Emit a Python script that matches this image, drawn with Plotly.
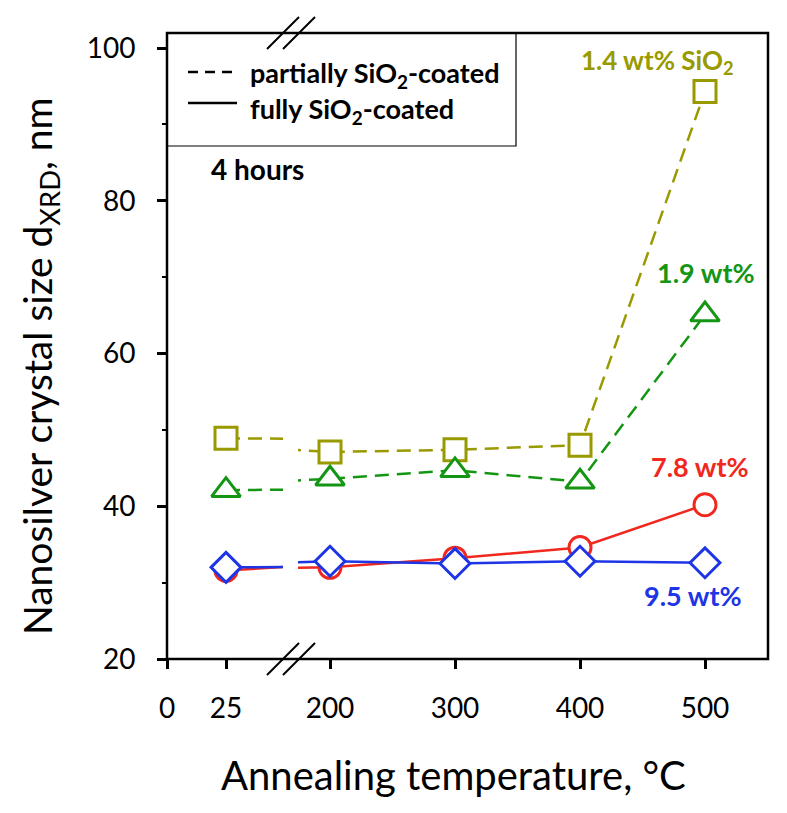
import plotly.graph_objects as go

# ---- data ----
temps = [25, 200, 300, 400, 500]
size_14 = [48.9, 47.1, 47.4, 48.0, 94.3]   # 1.4 wt% SiO2 (partially coated)
size_19 = [42.1, 43.6, 44.7, 43.2, 65.1]   # 1.9 wt% (partially coated)
size_78 = [31.6, 32.0, 33.2, 34.6, 40.2]   # 7.8 wt% (fully coated)
size_95 = [32.0, 32.8, 32.5, 32.8, 32.6]   # 9.5 wt% (fully coated)

left_ticks = [0, 25]
right_ticks = [200, 300, 400, 500]
y_ticks = [20, 40, 60, 80, 100]

# ---- layout geometry (pixels, in reference-image space) ----
OFF = 8                      # page body margin
W, H = 787 - 2 * OFF, 813 - 2 * OFF
L, R, T, B = 167, 768, 33, 659
def px(x):
    return (x - L) / (R - L)
def py(y):
    return (B - y) / (B - T)

FONT = "Lato"
OLIVE, GREEN, RED, BLUE = "#999900", "#149614", "#F0281E", "#1E35E6"

series = [
    (size_14, OLIVE, True, "square", 22),
    (size_19, GREEN, True, "triangle-up", 25),
    (size_78, RED, False, "circle", 22),
    (size_95, BLUE, False, "diamond", 23),
]

fig = go.Figure()
for xa in ["x", "x2"]:
    for vals, col, dashed, sym, sz in series:
        fig.add_trace(go.Scatter(
            x=temps, y=vals, xaxis=xa, yaxis="y", mode="lines+markers",
            line=dict(color=col, width=2.5, dash="14px,8px" if dashed else "solid"),
            marker=dict(symbol=sym, size=sz, color="white", line=dict(color=col, width=3)),
            showlegend=False, hoverinfo="x+y"))

tick_common = dict(ticks="outside", ticklen=9, tickwidth=2.5, tickcolor="black",
                   showgrid=False, zeroline=False, showline=False,
                   tickfont=dict(family=FONT, size=28, color="black"))

fig.update_layout(
    width=W, height=H,
    margin=dict(l=L - OFF, r=W - (R - OFF), t=T - OFF, b=H - (B - OFF)),
    plot_bgcolor="white", paper_bgcolor="white",
    xaxis=dict(domain=[0, px(283)], range=[0, (283 - 167) / 2.36], tickvals=left_ticks,
               anchor="y", ticklabelstandoff=15, **tick_common),
    xaxis2=dict(domain=[px(298), 1], range=[200 - (330 - 298) / 1.25, 500 + (768 - 705) / 1.25],
                tickvals=right_ticks, anchor="y", ticklabelstandoff=15, **tick_common),
    yaxis=dict(domain=[0, 1], range=[20, 20 + (659 - 33) / 7.6375], tickvals=y_ticks,
               anchor="x", ticklabelstandoff=16,
               minor=dict(ticks="outside", ticklen=4, tickwidth=1.5, tickcolor="black", dtick=10),
               **tick_common),
)

shapes = []
# frame
shapes.append(dict(type="rect", xref="paper", yref="paper", x0=0, x1=1, y0=0, y1=1,
                   line=dict(color="black", width=2.5)))
# axis-break marks (top and bottom)
for yc in (T, B):
    for dx in (0, 16):
        shapes.append(dict(type="line", xref="paper", yref="paper",
                           x0=px(267 + dx), y0=py(yc + 16), x1=px(299 + dx), y1=py(yc - 16),
                           line=dict(color="black", width=2)))
# legend box
shapes.append(dict(type="rect", xref="paper", yref="paper", x0=0, x1=px(516), y0=py(146), y1=1,
                   line=dict(color="black", width=1.2), fillcolor="rgba(0,0,0,0)"))
shapes.append(dict(type="line", xref="paper", yref="paper", x0=px(188), x1=px(237), y0=py(72), y1=py(72),
                   line=dict(color="black", width=2.5, dash="10px,7px")))
shapes.append(dict(type="line", xref="paper", yref="paper", x0=px(188), x1=px(237), y0=py(103), y1=py(103),
                   line=dict(color="black", width=2.5)))
fig.update_layout(shapes=shapes)

def ann(text, x, y, size, color="black", bold=False, xanchor="center", angle=0):
    t = "<b>%s</b>" % text if bold else text
    return dict(text=t, x=px(x), y=py(y), xref="paper", yref="paper", showarrow=False,
                xanchor=xanchor, yanchor="middle", textangle=angle,
                font=dict(family=FONT, size=size, color=color))

annotations = [
    ann("partially SiO<sub>2</sub>-coated", 248, 74, 27, bold=True, xanchor="left"),
    ann("fully SiO<sub>2</sub>-coated", 248, 111, 27, bold=True, xanchor="left"),
    ann("4 hours", 209, 169, 28, bold=True, xanchor="left"),
    ann("1.4 wt% SiO<sub>2</sub>", 657, 62, 26, OLIVE, bold=True),
    ann("1.9 wt%", 706, 272, 27, GREEN, bold=True),
    ann("7.8 wt%", 700, 466, 27, RED, bold=True),
    ann("9.5 wt%", 693, 595, 27, BLUE, bold=True),
    ann("Annealing temperature, °C", 453, 775, 40),
    ann("Nanosilver crystal size d<sub>XRD</sub>, nm", 40, 366, 39, angle=-90),
]
fig.update_layout(annotations=annotations)

fig.write_html("out.html")
